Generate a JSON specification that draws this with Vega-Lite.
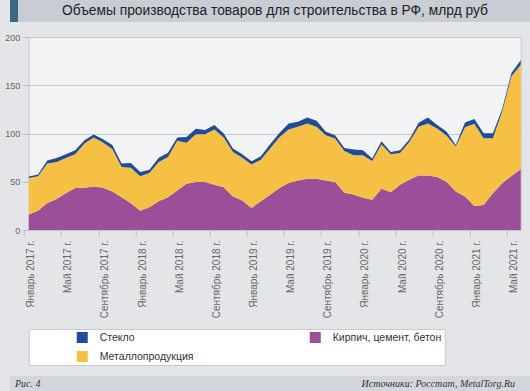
{
  "$schema": "https://vega.github.io/schema/vega-lite/v6.json",
  "background": "#e4e5e9",
  "padding": 0,
  "columns": 1,
  "spacing": 10,
  "center": true,
  "resolve": {"scale": {"color": "independent"}, "legend": {"color": "independent"}},
  "config": {"view": {"stroke": null}, "font": "Liberation Sans"},
  "concat": [
    {
      "width": 530,
      "height": 22,
      "view": {"fill": "#c8ccd4", "stroke": null},
      "data": {"values": [{"title": "Объемы производства товаров для строительства в РФ, млрд руб"}]},
      "layer": [
        {
          "mark": {"type": "rect", "color": "#3b6784"},
          "encoding": {
            "x": {"datum": 0, "type": "quantitative", "scale": {"domain": [0, 530]}, "axis": null},
            "x2": {"datum": 8}
          }
        },
        {
          "mark": {"type": "text", "fontSize": 13.8, "color": "#222222"},
          "encoding": {"text": {"field": "title"}}
        }
      ]
    },
    {
      "width": 492,
      "height": 193,
      "view": {"fill": "#f2f3f5", "stroke": "#c8c8c8"},
      "data": {"values": [
        {"date": "2017-01", "Кирпич, цемент, бетон": 16, "Металлопродукция": 38, "Стекло": 1.5},
        {"date": "2017-02", "Кирпич, цемент, бетон": 20, "Металлопродукция": 35.6, "Стекло": 2},
        {"date": "2017-03", "Кирпич, цемент, бетон": 28, "Металлопродукция": 40.8, "Стекло": 3.2},
        {"date": "2017-04", "Кирпич, цемент, бетон": 32, "Металлопродукция": 38.5, "Стекло": 4},
        {"date": "2017-05", "Кирпич, цемент, бетон": 38, "Металлопродукция": 36.7, "Стекло": 3.8},
        {"date": "2017-06", "Кирпич, цемент, бетон": 43.4, "Металлопродукция": 35.1, "Стекло": 4.1},
        {"date": "2017-07", "Кирпич, цемент, бетон": 43.8, "Металлопродукция": 45.8, "Стекло": 3.4},
        {"date": "2017-08", "Кирпич, цемент, бетон": 45.1, "Металлопродукция": 50.7, "Стекло": 3.2},
        {"date": "2017-09", "Кирпич, цемент, бетон": 43.8, "Металлопродукция": 46.8, "Стекло": 3.4},
        {"date": "2017-10", "Кирпич, цемент, бетон": 40, "Металлопродукция": 44, "Стекло": 4},
        {"date": "2017-11", "Кирпич, цемент, бетон": 34, "Металлопродукция": 31.3, "Стекло": 3.5},
        {"date": "2017-12", "Кирпич, цемент, бетон": 27.8, "Металлопродукция": 36.8, "Стекло": 4.8},
        {"date": "2018-01", "Кирпич, цемент, бетон": 20, "Металлопродукция": 35.6, "Стекло": 4.4},
        {"date": "2018-02", "Кирпич, цемент, бетон": 23.6, "Металлопродукция": 35.4, "Стекло": 3.5},
        {"date": "2018-03", "Кирпич, цемент, бетон": 29.9, "Металлопродукция": 40.6, "Стекло": 4.5},
        {"date": "2018-04", "Кирпич, цемент, бетон": 34, "Металлопродукция": 41.7, "Стекло": 4.3},
        {"date": "2018-05", "Кирпич, цемент, бетон": 41, "Металлопродукция": 51.4, "Стекло": 3.4},
        {"date": "2018-06", "Кирпич, цемент, бетон": 47.9, "Металлопродукция": 42.4, "Стекло": 6.2},
        {"date": "2018-07", "Кирпич, цемент, бетон": 49.7, "Металлопродукция": 49.6, "Стекло": 5.7},
        {"date": "2018-08", "Кирпич, цемент, бетон": 49.7, "Металлопродукция": 49.6, "Стекло": 4.2},
        {"date": "2018-09", "Кирпич, цемент, бетон": 46.9, "Металлопродукция": 57.3, "Стекло": 4.5},
        {"date": "2018-10", "Кирпич, цемент, бетон": 44.4, "Металлопродукция": 51.4, "Стекло": 4.2},
        {"date": "2018-11", "Кирпич, цемент, бетон": 34.7, "Металлопродукция": 46.2, "Стекло": 3.5},
        {"date": "2018-12", "Кирпич, цемент, бетон": 30.6, "Металлопродукция": 44.4, "Стекло": 3.5},
        {"date": "2019-01", "Кирпич, цемент, бетон": 22.9, "Металлопродукция": 45.1, "Стекло": 3.2},
        {"date": "2019-02", "Кирпич, цемент, бетон": 29.9, "Металлопродукция": 43, "Стекло": 3.5},
        {"date": "2019-03", "Кирпич, цемент, бетон": 36.5, "Металлопродукция": 47.9, "Стекло": 4.5},
        {"date": "2019-04", "Кирпич, цемент, бетон": 43.5, "Металлопродукция": 52.5, "Стекло": 4.5},
        {"date": "2019-05", "Кирпич, цемент, бетон": 48.6, "Металлопродукция": 55.6, "Стекло": 6.2},
        {"date": "2019-06", "Кирпич, цемент, бетон": 51.4, "Металлопродукция": 55.5, "Стекло": 5.3},
        {"date": "2019-07", "Кирпич, цемент, бетон": 53.1, "Металлопродукция": 57.3, "Стекло": 6.3},
        {"date": "2019-08", "Кирпич, цемент, бетон": 53.1, "Металлопродукция": 53.8, "Стекло": 6.3},
        {"date": "2019-09", "Кирпич, цемент, бетон": 51.4, "Металлопродукция": 46.9, "Стекло": 3.4},
        {"date": "2019-10", "Кирпич, цемент, бетон": 49.7, "Металлопродукция": 45.1, "Стекло": 3.5},
        {"date": "2019-11", "Кирпич, цемент, бетон": 38.5, "Металлопродукция": 43.4, "Стекло": 3.1},
        {"date": "2019-12", "Кирпич, цемент, бетон": 36.8, "Металлопродукция": 40.6, "Стекло": 5.9},
        {"date": "2020-01", "Кирпич, цемент, бетон": 33.3, "Металлопродукция": 44.1, "Стекло": 5.2},
        {"date": "2020-02", "Кирпич, цемент, бетон": 31.3, "Металлопродукция": 40.2, "Стекло": 2.5},
        {"date": "2020-03", "Кирпич, цемент, бетон": 42.7, "Металлопродукция": 45.8, "Стекло": 3.5},
        {"date": "2020-04", "Кирпич, цемент, бетон": 39.2, "Металлопродукция": 39.3, "Стекло": 2.4},
        {"date": "2020-05", "Кирпич, цемент, бетон": 46.9, "Металлопродукция": 33, "Стекло": 2.7},
        {"date": "2020-06", "Кирпич, цемент, бетон": 52.1, "Металлопродукция": 39.2, "Стекло": 2.5},
        {"date": "2020-07", "Кирпич, цемент, бетон": 56.6, "Металлопродукция": 50.3, "Стекло": 4.2},
        {"date": "2020-08", "Кирпич, цемент, бетон": 56.6, "Металлопродукция": 53.8, "Стекло": 6.3},
        {"date": "2020-09", "Кирпич, цемент, бетон": 54.9, "Металлопродукция": 50.3, "Стекло": 3.5},
        {"date": "2020-10", "Кирпич, цемент, бетон": 50, "Металлопродукция": 48, "Стекло": 4},
        {"date": "2020-11", "Кирпич, цемент, бетон": 39.8, "Металлопродукция": 46.7, "Стекло": 1.7},
        {"date": "2020-12", "Кирпич, цемент, бетон": 34.6, "Металлопродукция": 72, "Стекло": 4.8},
        {"date": "2021-01", "Кирпич, цемент, бетон": 24.9, "Металлопродукция": 85.1, "Стекло": 4.9},
        {"date": "2021-02", "Кирпич, цемент, бетон": 26, "Металлопродукция": 69.2, "Стекло": 5.1},
        {"date": "2021-03", "Кирпич, цемент, бетон": 38, "Металлопродукция": 57.2, "Стекло": 5.1},
        {"date": "2021-04", "Кирпич, цемент, бетон": 48.4, "Металлопродукция": 74.4, "Стекло": 2.5},
        {"date": "2021-05", "Кирпич, цемент, бетон": 56, "Металлопродукция": 103.2, "Стекло": 3.4},
        {"date": "2021-06", "Кирпич, цемент, бетон": 63, "Металлопродукция": 108.3, "Стекло": 4.5}
      ]},
      "transform": [
        {"fold": ["Кирпич, цемент, бетон", "Металлопродукция", "Стекло"], "as": ["series", "value"]},
        {"calculate": "indexof(['Кирпич, цемент, бетон', 'Металлопродукция', 'Стекло'], datum.series)", "as": "ord"}
      ],
      "mark": {"type": "area", "interpolate": "linear"},
      "encoding": {
        "x": {
          "field": "date",
          "type": "ordinal",
          "scale": {"type": "point", "padding": 0, "align": 0},
          "axis": {
            "title": null,
            "values": ["2017-01", "2017-05", "2017-09", "2018-01", "2018-05", "2018-09", "2019-01", "2019-05", "2019-09", "2020-01", "2020-05", "2020-09", "2021-01", "2021-05"],
            "labelExpr": "(slice(datum.value, 5) == '01' ? 'Январь' : slice(datum.value, 5) == '05' ? 'Май' : 'Сентябрь') + ' ' + slice(datum.value, 0, 4) + ' г.'",
            "labelAngle": 270,
            "labelFontSize": 10,
            "labelColor": "#666666",
            "labelPadding": 4,
            "labelOverlap": false,
            "labelBound": false,
            "tickColor": "#bdbdbd",
            "tickSize": 6,
            "tickOffset": -4.64,
            "labelOffset": 6.6,
            "domain": false,
            "grid": false
          }
        },
        "y": {
          "field": "value",
          "type": "quantitative",
          "stack": "zero",
          "scale": {"domain": [0, 200], "nice": false},
          "axis": {
            "title": null,
            "values": [0, 50, 100, 150, 200],
            "labelFontSize": 9,
            "labelColor": "#666666",
            "labelPadding": 3,
            "tickColor": "#bdbdbd",
            "tickSize": 6,
            "domain": false,
            "gridColor": "#c8c8c8",
            "minExtent": 28
          }
        },
        "color": {
          "field": "series",
          "type": "nominal",
          "scale": {
            "domain": ["Стекло", "Кирпич, цемент, бетон", "Металлопродукция"],
            "range": ["#1f4b99", "#9b4f99", "#f5c044"]
          },
          "legend": {
            "title": null,
            "orient": "bottom",
            "columns": 2,
            "symbolType": "square",
            "symbolSize": 121,
            "symbolStrokeWidth": 0,
            "symbolOpacity": 1,
            "labelFontSize": 10.5,
            "labelColor": "#333333",
            "fillColor": "#ffffff",
            "strokeColor": "#c8c8c8",
            "padding": 3,
            "rowPadding": 8,
            "columnPadding": 71,
            "symbolOffset": 45,
            "labelOffset": 12,
            "offset": 11
          }
        },
        "order": {"field": "ord", "type": "quantitative"}
      }
    },
    {
      "width": 530,
      "height": 15,
      "view": {"fill": "#d3d6dc", "stroke": null},
      "data": {"values": [{"left": "Рис. 4", "right": "Источники: Росстат, MetalTorg.Ru"}]},
      "layer": [
        {
          "mark": {"type": "text", "align": "left", "dx": 5, "font": "Liberation Serif", "fontStyle": "italic", "fontSize": 10, "color": "#333333"},
          "encoding": {
            "x": {"datum": 0, "type": "quantitative", "scale": {"domain": [0, 1]}, "axis": null},
            "text": {"field": "left"}
          }
        },
        {
          "mark": {"type": "text", "align": "right", "dx": -25, "font": "Liberation Serif", "fontStyle": "italic", "fontSize": 10, "color": "#333333"},
          "encoding": {
            "x": {"datum": 1, "type": "quantitative"},
            "text": {"field": "right"}
          }
        }
      ]
    }
  ]
}
